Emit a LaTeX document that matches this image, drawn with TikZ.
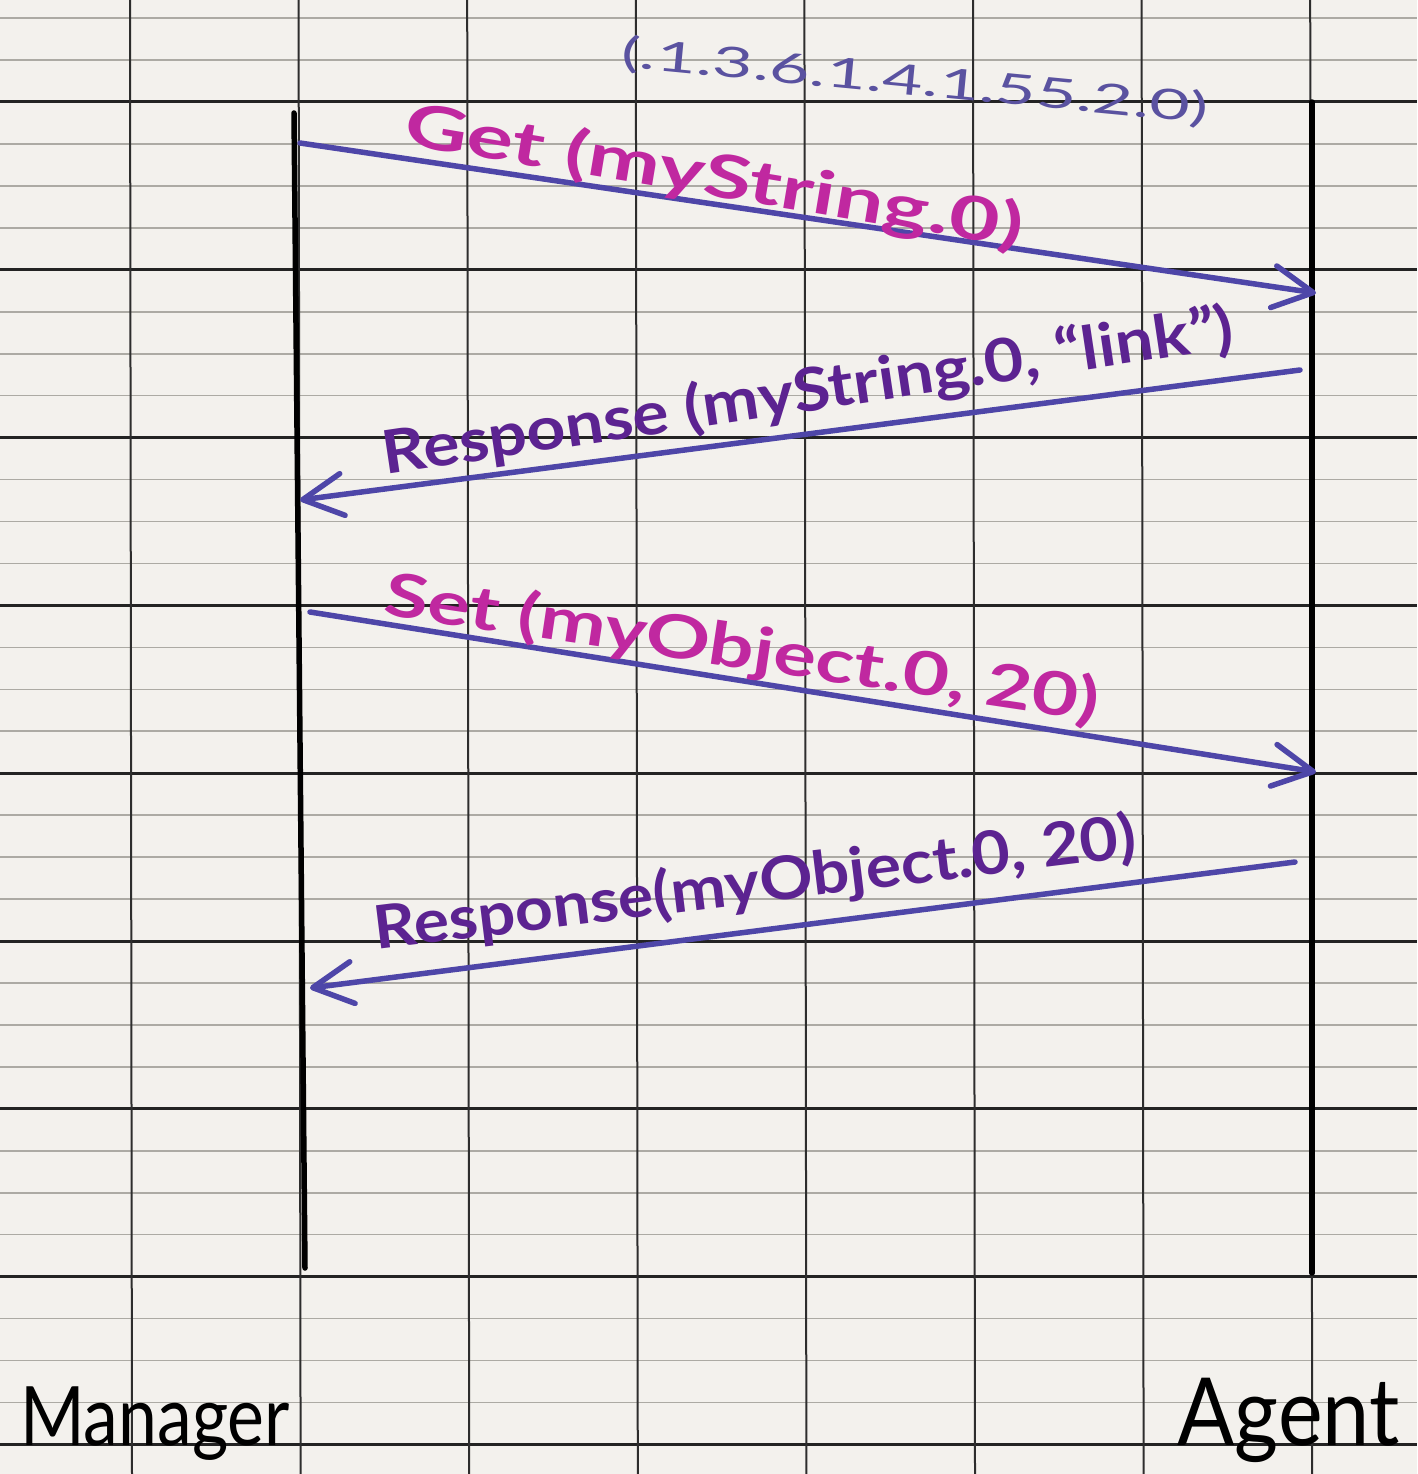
\documentclass[tikz,border=0pt]{standalone}
\usepackage{fontspec}
\setmainfont{Lato}
\usetikzlibrary{arrows.meta}
\definecolor{paper}{RGB}{243,241,237}
\definecolor{thinrule}{RGB}{172,170,164}
\definecolor{thickrule}{RGB}{35,35,35}
\definecolor{vrule}{RGB}{45,45,45}
\definecolor{pen}{RGB}{78,70,168}
\definecolor{magentaink}{RGB}{192,40,160}
\definecolor{purpleink}{RGB}{92,35,145}
\definecolor{oidink}{RGB}{90,82,160}
\begin{document}
\begin{tikzpicture}[x=1pt,y=-1pt,
  thinline/.style={line width=1.6pt, thinrule},
  thickline/.style={line width=3pt, thickrule},
  gridv/.style={line width=2pt, vrule},
  lifeline/.style={line width=5.5pt, black, line cap=round},
  msg/.style={line width=5.5pt, pen, line cap=round,
    -{Straight Barb[length=40pt,width=42pt,line cap=round,round]}},
  inklbl/.style={inner sep=0pt, font=\fontsize{60}{60}\selectfont\bfseries},
  oidlbl/.style={inner sep=0pt, oidink, font=\fontsize{42}{42}\selectfont},
  namelbl/.style={inner sep=0pt, black, font=\fontsize{82}{82}\selectfont}
]
\fill[paper] (0,0) rectangle (1417,1474);
\useasboundingbox (0,0) rectangle (1417,1474);
% ruled paper
\foreach \k in {0,...,34} {
  \draw[thinline] (0,{18.1+41.95*\k}) -- (1417,{18.1+41.95*\k});
}
\foreach \k in {0,...,8} {
  \draw[thickline] (0,{102+167.8*\k}) -- (1417,{102+167.8*\k});
}
\foreach \k in {0,...,7} {
  \draw[gridv] ({130+168.6*\k},0) -- ({132+168.6*\k},1474);
}
% lifelines
\coordinate (mtop) at (294,113);
\coordinate (mbot) at (305,1268);
\coordinate (atop) at (1312,102);
\coordinate (abot) at (1312,1273);
\draw[lifeline] (mtop) -- (mbot);
\draw[lifeline] (atop) -- (abot);
% message end points
\coordinate (g1s) at (300,143);
\coordinate (g1e) at (1316,293);
\coordinate (r1s) at (1300,370);
\coordinate (r1e) at (300,500);
\coordinate (s1s) at (310,612);
\coordinate (s1e) at (1316,772);
\coordinate (r2s) at (1295,862);
\coordinate (r2e) at (310,988);
\draw[msg] (g1s) -- (g1e);
\draw[msg] (r1s) -- (r1e);
\draw[msg] (s1s) -- (s1e);
\draw[msg] (r2s) -- (r2e);
% labels
\node[oidlbl, rotate=-5.5, xscale=1.66] (oid) at (915,82) {(.1.3.6.1.4.1.55.2.0)};
\node[inklbl, magentaink, rotate=-9.5, xscale=1.45] (getl) at (714,178) {Get (myString.0)};
\node[inklbl, purpleink, rotate=8.5, xscale=1.13] (resp1) at (808,393) {Response (myString.0, “link”)};
\node[inklbl, magentaink, rotate=-8.5, xscale=1.33] (setl) at (742,650) {Set (myObject.0, 20)};
\node[inklbl, purpleink, rotate=7, xscale=1.1] (resp2) at (755,885) {Response(myObject.0, 20)};
\node[namelbl, anchor=base west, xscale=0.85] (mgr) at (20,1445) {Manager};
\node[namelbl, anchor=base east, font=\fontsize{94}{94}\selectfont, xscale=0.9] (agt) at (1400,1445) {Agent};
\end{tikzpicture}
\end{document}
